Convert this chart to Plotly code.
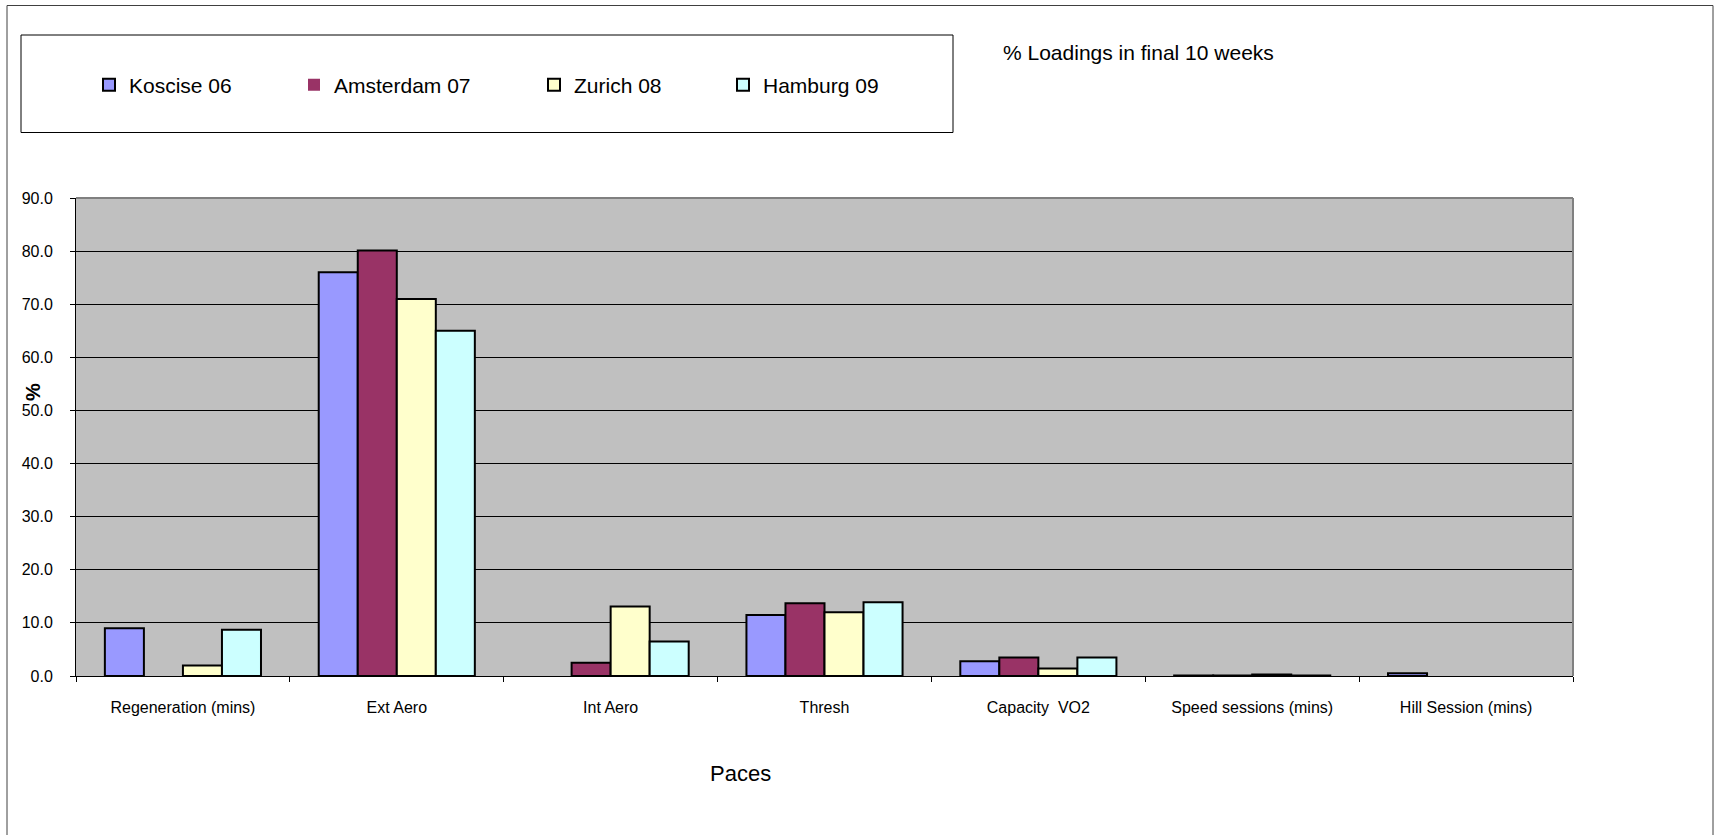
import plotly.graph_objects as go

categories = ["Regeneration (mins)", "Ext Aero", "Int Aero", "Thresh",
              "Capacity\u00a0 VO2", "Speed sessions (mins)", "Hill Session (mins)"]
series_names = ["Koscise 06", "Amsterdam 07", "Zurich 08", "Hamburg 09"]
koscise = [9.0, 76.0, 0.0, 11.5, 2.8, 0.1, 0.5]
amsterdam = [0.0, 80.1, 2.5, 13.7, 3.5, 0.1, 0.0]
zurich = [2.0, 71.0, 13.1, 12.0, 1.4, 0.3, 0.0]
hamburg = [8.7, 65.0, 6.5, 13.9, 3.5, 0.1, 0.0]
colors = ["#9999FF", "#993366", "#FFFFCC", "#CCFFFF"]
y_ticks = [0, 10, 20, 30, 40, 50, 60, 70, 80, 90]

FW, FH = 1717, 835
L, R, T, B = 76, 1573, 198, 676
PW, PH = R - L, B - T
FONT = "Liberation Sans, Arial, sans-serif"


def xp(px):
    return (px - L) / PW


def yp(py):
    return (B - py) / PH


fig = go.Figure()
values = [koscise, amsterdam, zurich, hamburg]
legend_x = [89, 294, 534, 723]
for i, (name, vals) in enumerate(zip(series_names, values)):
    lg = "legend" if i == 0 else f"legend{i + 1}"
    fig.add_trace(go.Bar(
        x=categories, y=vals, name=name,
        marker=dict(color=colors[i],
                    line=dict(color="#000000",
                              width=[2 if v > 0 else 0 for v in vals])),
        legend=lg,
    ))
    fig.update_layout(**{lg: dict(
        x=xp(legend_x[i]), y=yp(85), xanchor="left", yanchor="middle",
        orientation="h", bgcolor="rgba(0,0,0,0)", borderwidth=0,
        font=dict(family=FONT, size=21, color="#000000"),
        itemwidth=30, itemclick=False, itemdoubleclick=False,
    )})

fig.update_layout(
    width=FW, height=FH, autosize=False,
    margin=dict(l=L, r=FW - R, t=T, b=FH - B, pad=0),
    paper_bgcolor="#FFFFFF", plot_bgcolor="#C0C0C0",
    barmode="group", bargap=0.27, bargroupgap=0,
    font=dict(family=FONT, size=16, color="#000000"),
    showlegend=True,
)
fig.update_xaxes(
    type="category", tickson="boundaries", ticks="outside", ticklen=5,
    tickcolor="#000000", showline=True, linecolor="#000000", linewidth=1,
    showgrid=False, tickfont=dict(family=FONT, size=16, color="#000000"),
    ticklabelstandoff=17,
)
fig.update_yaxes(
    range=[0, 90], tickvals=y_ticks, tickformat=".1f", ticks="outside",
    ticklen=5, tickcolor="#000000", showline=True, linecolor="#000000",
    linewidth=1, showgrid=True, gridcolor="#000000", gridwidth=1,
    zeroline=False, tickfont=dict(family=FONT, size=16, color="#000000"),
    ticklabelstandoff=14,
)

shapes = [
    # outer chart border
    dict(type="rect", xref="paper", yref="paper", x0=xp(7), x1=xp(1713),
         y0=yp(845), y1=yp(5.5), line=dict(color="#404040", width=1),
         fillcolor="rgba(0,0,0,0)", layer="below"),
    # legend box
    dict(type="rect", xref="paper", yref="paper", x0=xp(21), x1=xp(953),
         y0=yp(132.5), y1=yp(35), line=dict(color="#000000", width=1),
         fillcolor="rgba(0,0,0,0)", layer="below"),
    # plot area top and right border
    dict(type="line", xref="paper", yref="paper", x0=0, x1=1, y0=1, y1=1,
         line=dict(color="#808080", width=2), layer="above"),
    dict(type="line", xref="paper", yref="paper", x0=1, x1=1, y0=0, y1=1,
         line=dict(color="#808080", width=2), layer="above"),
]
fig.update_layout(shapes=shapes)

fig.update_layout(annotations=[
    dict(text="% Loadings in final 10 weeks", xref="paper", yref="paper",
         x=xp(1001), y=yp(53), xanchor="left", yanchor="middle",
         showarrow=False, font=dict(family=FONT, size=21, color="#000000")),
    dict(text="Paces", xref="paper", yref="paper", x=xp(740), y=yp(773),
         xanchor="center", yanchor="middle", showarrow=False,
         font=dict(family=FONT, size=22, color="#000000")),
    dict(text="<b>%</b>", xref="paper", yref="paper", x=xp(33), y=yp(392),
         xanchor="center", yanchor="middle", textangle=-90, showarrow=False,
         font=dict(family=FONT, size=20, color="#000000")),
])

fig.write_html("out.html")
